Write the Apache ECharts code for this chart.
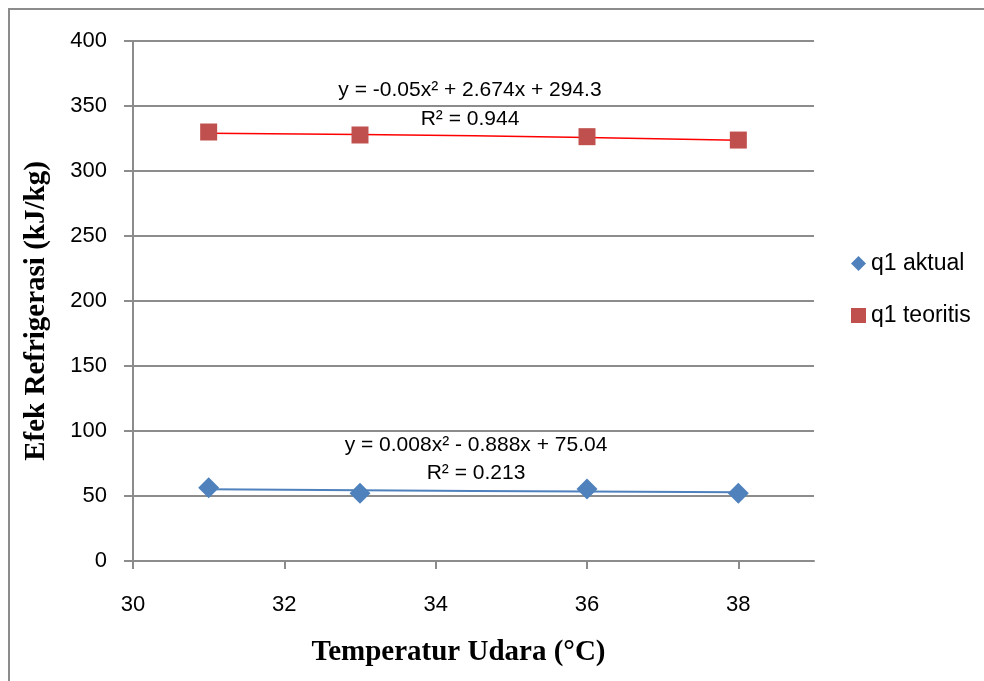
<!DOCTYPE html>
<html>
<head>
<meta charset="utf-8">
<script src="https://cdn.jsdelivr.net/npm/echarts@6/dist/echarts.min.js"></script>
<style>
html,body{margin:0;padding:0;background:#fff;}
#chart{width:984px;height:681px;}
</style>
</head>
<body>
<div id="chart"></div>
<script>
var temps = [31, 33, 36, 38];
var aktual = [56.4, 52.1, 55.4, 52.1];
var teoritis = [330, 327.7, 326.4, 323.8];
var trendAktual = [55.2, 54.45, 53.44, 52.85];
var trendTeoritis = [329.1, 328.1, 325.8, 323.7];
var yTicks = [0, 50, 100, 150, 200, 250, 300, 350, 400];
var xTicks = [30, 32, 34, 36, 38];

var seriesNames = ['q1 aktual', 'q1 teoritis'];
var eqTeoritis = ['y = -0.05x\u00B2 + 2.674x + 294.3', 'R\u00B2 = 0.944'];
var eqAktual = ['y = 0.008x\u00B2 - 0.888x + 75.04', 'R\u00B2 = 0.213'];

function pairs(xs, ys){ return xs.map(function(x,i){ return [x, ys[i]]; }); }

var sansFont = 'Liberation Sans';
var chart = echarts.init(document.getElementById('chart'), null, {renderer:'canvas'});
chart.setOption({
  animation: false,
  backgroundColor: '#ffffff',
  grid: {left: 133, top: 41, right: 170, bottom: 120, containLabel: false},
  xAxis: {
    type: 'value', min: 30, max: 39, interval: 2,
    name: 'Temperatur Udara (\u00B0C)', nameLocation: 'middle', nameGap: 77,
    nameTextStyle: {fontFamily: 'Liberation Serif', fontWeight: 'bold', fontSize: 29, color: '#000', padding: [0, 30, 0, 0]},
    axisLine: {show: true, onZero: false, lineStyle: {color: '#8c8c8c', width: 2}},
    axisTick: {show: true, inside: false, length: 8, lineStyle: {color: '#8c8c8c', width: 2}},
    axisLabel: {show: true, margin: 33, fontFamily: sansFont, fontSize: 22, color: '#000', showMaxLabel: false,
      formatter: function(v){ return xTicks.indexOf(v) >= 0 ? String(v) : ''; }},
    splitLine: {show: false}
  },
  yAxis: {
    type: 'value', min: 0, max: 400, interval: 50,
    name: 'Efek Refrigerasi (kJ/kg)', nameLocation: 'middle', nameGap: 82, nameRotate: 90,
    nameTextStyle: {fontFamily: 'Liberation Serif', fontWeight: 'bold', fontSize: 29, color: '#000', padding: [0, 20, 0, 0]},
    axisLine: {show: true, lineStyle: {color: '#8c8c8c', width: 2}},
    axisTick: {show: true, inside: false, length: 9, lineStyle: {color: '#8c8c8c', width: 2}},
    axisLabel: {margin: 26, fontFamily: sansFont, fontSize: 22, color: '#000',
      formatter: function(v){ return yTicks.indexOf(v) >= 0 ? String(v) : ''; }},
    splitLine: {show: true, lineStyle: {color: '#8c8c8c', width: 2}}
  },
  legend: {
    orient: 'vertical', left: 846, top: 247, itemGap: 29,
    itemWidth: 15, itemHeight: 15,
    textStyle: {fontFamily: sansFont, fontSize: 23, color: '#000'},
    data: [
      {name: seriesNames[0], icon: 'diamond'},
      {name: seriesNames[1], icon: 'rect'}
    ]
  },
  series: [
    {
      name: 'trend aktual', type: 'line', data: pairs(temps, trendAktual), smooth: true,
      showSymbol: false, symbol: 'none', lineStyle: {color: '#4F81BD', width: 2}, z: 2, silent: true
    },
    {
      name: 'trend teoritis', type: 'line', data: pairs(temps, trendTeoritis), smooth: true,
      showSymbol: false, symbol: 'none', lineStyle: {color: '#FF0000', width: 1.5}, z: 2, silent: true
    },
    {
      name: seriesNames[0], type: 'scatter', data: pairs(temps, aktual),
      symbol: 'diamond', symbolSize: [21, 21], itemStyle: {color: '#4F81BD', opacity: 1}, z: 3
    },
    {
      name: seriesNames[1], type: 'scatter', data: pairs(temps, teoritis),
      symbol: 'rect', symbolSize: [17, 17], itemStyle: {color: '#C0504D', opacity: 1}, z: 3
    }
  ],
  graphic: [
    {type: 'rect', shape: {x: 9, y: 9, width: 1000, height: 700}, style: {fill: 'none', stroke: '#8c8c8c', lineWidth: 2}, silent: true, z: 0},
    {type: 'text', x: 470, y: 90, style: {text: eqTeoritis[0], fontFamily: sansFont, fontSize: 21, fill: '#000', align: 'center', verticalAlign: 'middle'}},
    {type: 'text', x: 470, y: 119, style: {text: eqTeoritis[1], fontFamily: sansFont, fontSize: 21, fill: '#000', align: 'center', verticalAlign: 'middle'}},
    {type: 'text', x: 476, y: 445, style: {text: eqAktual[0], fontFamily: sansFont, fontSize: 21, fill: '#000', align: 'center', verticalAlign: 'middle'}},
    {type: 'text', x: 476, y: 473, style: {text: eqAktual[1], fontFamily: sansFont, fontSize: 21, fill: '#000', align: 'center', verticalAlign: 'middle'}}
  ]
});
</script>
</body>
</html>
